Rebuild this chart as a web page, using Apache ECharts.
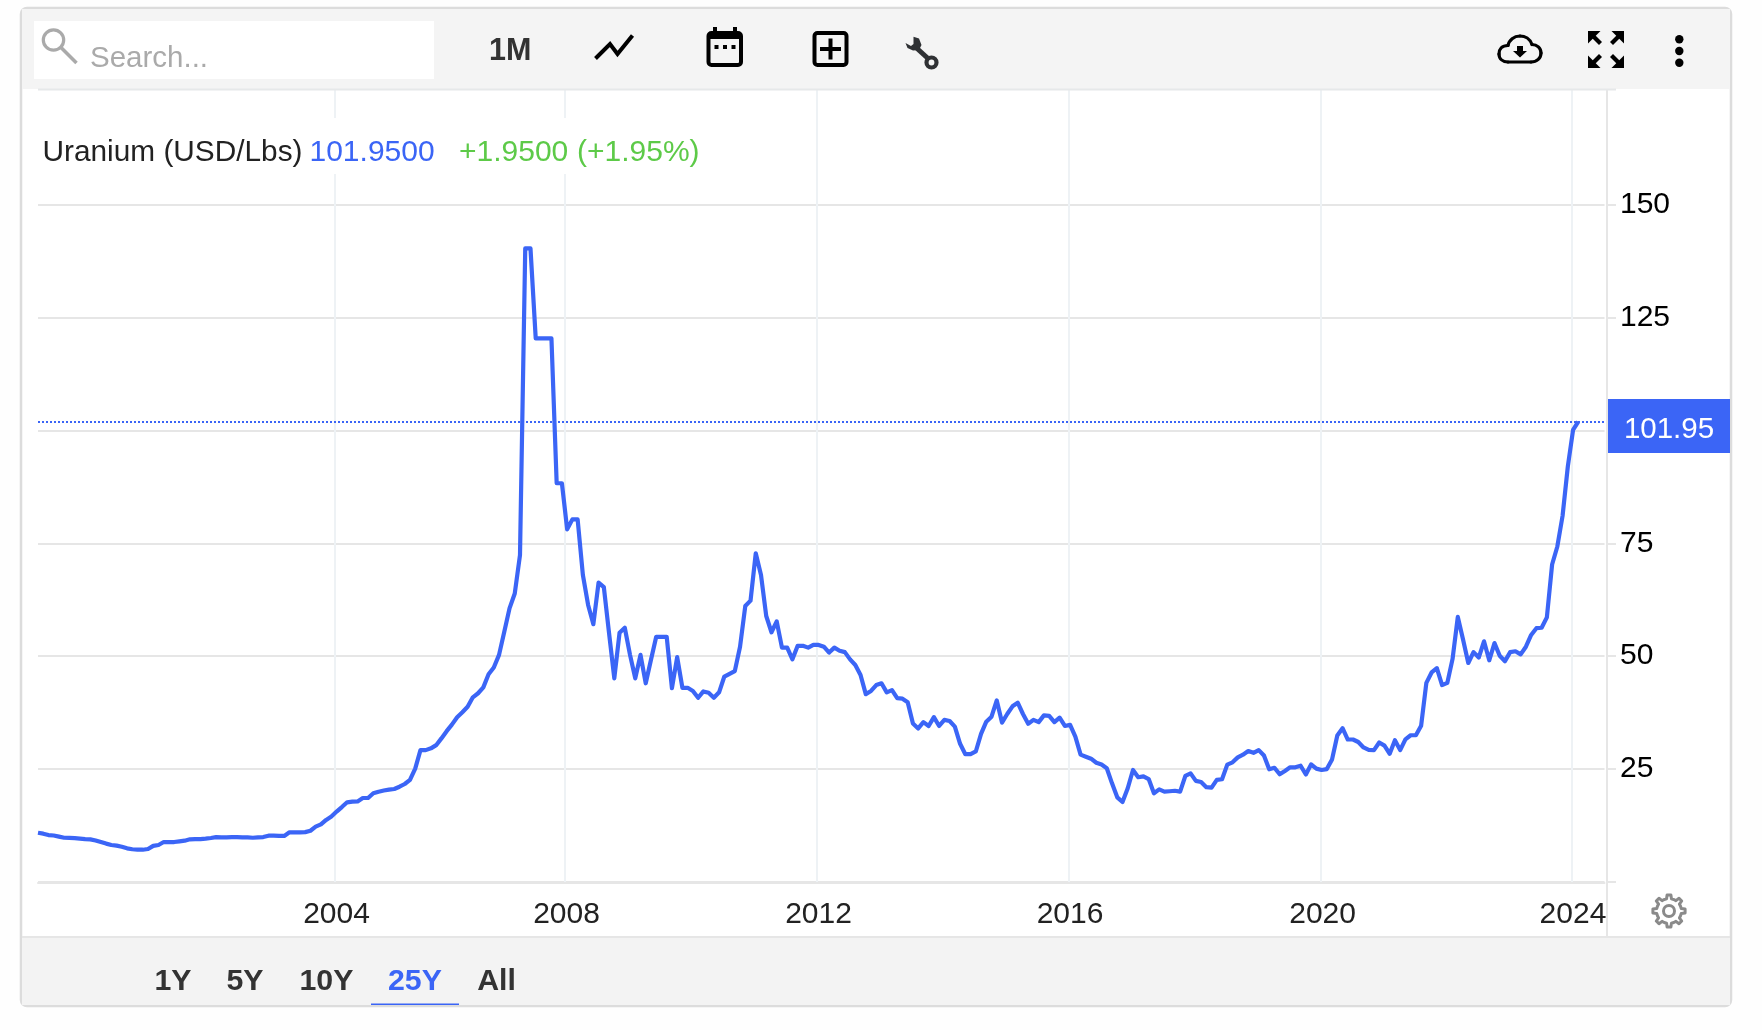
<!DOCTYPE html>
<html><head><meta charset="utf-8">
<style>html,body{margin:0;padding:0;background:#fefefe}#c{width:1762px;height:1030px}</style>
<script src="https://cdn.jsdelivr.net/npm/echarts@6/dist/echarts.min.js"></script>
</head><body><div id="c"></div>
<script>
// Monthly-ish uranium price readings (USD/Lbs), one per slot on the chart's ordinal time scale
const prices1999to2003 = [10.9,10.7,10.4,10.3,10.05,9.8,9.75,9.7,9.6,9.5,9.45,9.2,8.85,8.5,8.2,8.05,7.8,7.45,7.25,7.15,7.15,7.3,8.0,8.2,8.85,8.85,8.85,9.0,9.15,9.45,9.5,9.5,9.6,9.75,9.95,9.9,9.9,9.95,9.95,9.9,9.9,9.8,9.9,9.95,10.25,10.25,10.2,10.2,11.0,11.0,11.0,11.05,11.35,12.25,12.75,13.75,14.5];
const prices2004to2007 = [15.6,16.6,17.65,17.8,17.85,18.6,18.6,19.65,20.0,20.25,20.45,20.6,21.1,21.7,22.6,25.1,29.2,29.2,29.6,30.3,31.8,33.4,34.85,36.5,37.6,38.8,40.9,41.8,43.1,46.0,47.5,50.3,55.4,60.6,63.9,72.4,140.3,140.3,120.4,120.4,120.4,120.4,88.3,88.3];
const prices2008to2011 = [78.1,80.3,80.3,68.0,61.35,57.1,66.3,65.3,55.1,45.1,55.2,56.3,50.3,45.1,50.3,44.0,49.2,54.3,54.3,54.3,42.9,49.8,43.0,43.0,42.3,40.8,42.2,41.9,40.8,42.0,45.5,46.1,46.7,52.1,61.1,62.3,72.8,68.0,58.9,55.3,57.7,51.9,51.9,49.3,52.3,52.3,51.9,52.5];
const prices2012to2015 = [52.5,52.1,50.8,51.9,51.2,50.9,49.3,48.05,45.85,41.6,42.3,43.6,44.0,42.0,42.5,40.7,40.6,39.8,35.1,34.0,35.4,34.55,36.5,34.55,35.9,35.65,34.4,30.6,28.3,28.3,28.9,32.8,35.5,36.6,40.2,35.3,37.2,38.9,39.7,37.2,35.05,35.9,35.4,36.9,36.8,35.4,36.4,34.55];
const prices2016to2019 = [34.8,32.2,28.2,27.75,27.3,26.4,26.0,25.2,21.85,18.75,17.7,20.75,24.8,23.2,23.4,22.8,19.65,20.5,20.0,20.1,20.2,20.0,23.5,24.05,22.4,22.15,21.0,20.9,22.6,22.75,26.0,26.5,27.6,28.2,29.0,28.6,29.2,28.0,24.95,25.3,23.85,24.6,25.4,25.4,25.75,23.8,26.05,25.1];
const prices2020to2024 = [24.8,25.0,27.15,32.45,34.05,31.55,31.55,31.0,29.8,29.25,29.2,30.9,30.2,28.4,31.4,29.2,31.6,32.5,32.5,34.6,44.1,46.4,47.35,43.6,44.1,49.4,58.7,53.7,48.5,50.9,49.7,53.3,49.1,52.9,50.1,48.9,50.9,51.1,50.4,52.1,54.7,56.2,56.3,58.6,70.3,74.3,81.1,92.0,100.1,101.95];
const prices = [].concat(prices1999to2003,prices2004to2007,prices2008to2011,prices2012to2015,prices2016to2019,prices2020to2024);
const yearLabels = ['2004','2008','2012','2016','2020','2024'];
const yearSlots = [56.7,100.6,148.7,196.7,244.9,292.7];
const priceTicks = [0,25,50,75,100,125,150];
const priceLabels = [25,50,75,125,150];
const lastPrice = 101.95;
const rangeButtons = ['1Y','5Y','10Y','25Y','All'];

const FONT = '"Liberation Sans", Arial, sans-serif';
const BLUE = '#3b65f6';
const chart = echarts.init(document.getElementById('c'));
const txt = (text,x,y,size,fill,o={}) => ({type:'text',z:o.z||5,silent:true,style:{text,x,y,fill,font:`${o.bold?'bold ':''}${size}px ${FONT}`,verticalAlign:'middle',align:o.align||'left'}});
const rect = (x,y,w,h,fill,o={}) => ({type:'rect',z:o.z===undefined?4:o.z,silent:true,shape:{x,y,width:w,height:h,r:o.r||0},style:{fill:fill,stroke:o.stroke||null,lineWidth:o.lw||0}});
const poly = (points,fill,stroke,lw) => ({type:'polygon',z:6,silent:true,shape:{points},style:{fill:fill||null,stroke:stroke||null,lineWidth:lw||0,lineJoin:'round'}});
const line = (x1,y1,x2,y2,stroke,lw,cap) => ({type:'line',z:6,silent:true,shape:{x1,y1,x2,y2},style:{stroke,lineWidth:lw,lineCap:cap||'butt'}});
const circle = (cx,cy,r,fill,stroke,lw) => ({type:'circle',z:6,silent:true,shape:{cx,cy,r},style:{fill:fill||null,stroke:stroke||null,lineWidth:lw||0}});
const polyline = (points,stroke,lw,join) => ({type:'polyline',z:6,silent:true,shape:{points},style:{stroke,lineWidth:lw,fill:null,lineJoin:join||'miter'}});
const bez = (x1,y1,cpx1,cpy1,cpx2,cpy2,x2,y2,stroke,lw) => ({type:'bezierCurve',z:6,silent:true,shape:{x1,y1,cpx1,cpy1,cpx2,cpy2,x2,y2},style:{stroke,lineWidth:lw,fill:null,lineCap:'round'}});

const g = [];
// frame and bars
g.push(rect(21,8,1710,998,'#ffffff',{z:-10,r:6,stroke:'#dcdcdc',lw:2.5}));
g.push(rect(22,9,1708,80,'#f4f4f4'));
g.push(rect(38,88.5,1578,2,'#e6e8e9'));
g.push(rect(22,938,1708,67,'#f3f3f3'));
g.push(rect(22,936,1708,2,'#e6e6e6'));
g.push(rect(1606,882,2,54,'#e6e6e6',{z:1}));
// search
g.push(rect(34,21,400,58,'#ffffff'));
g.push(circle(53.5,40,10.2,null,'#aaaaaa',3.2));
g.push(line(61,47.5,76.5,63,'#aaaaaa',3.6));
g.push(txt('Search...',90,59,29.5,'#aaaaaa'));
// toolbar
g.push(txt('1M',489,51.5,30.5,'#333333',{bold:true}));
g.push(polyline([[595.5,58.5],[610,44],[617.5,54],[632.5,35.5]],'#000000',4));
g.push(rect(708.5,33,32.5,32,null,{stroke:'#000',lw:4,r:3,z:6}));
g.push(rect(708,33,34,6,'#000',{z:6}));
g.push(rect(713,27,4,6,'#000',{z:6}));g.push(rect(733,27,4,6,'#000',{z:6}));
[714.5,723,731.5].forEach(x=>g.push(rect(x,45,4,4,'#000',{z:6})));
g.push(rect(814.5,33,32,32,null,{stroke:'#000',lw:4,r:3,z:6}));
g.push(line(820,49,841,49,'#000',4));g.push(line(830.5,38.5,830.5,59.5,'#000',4));
g.push(line(916,47.5,927.5,58,'#2f3134',5));
g.push(circle(931.5,62.5,5,null,'#2f3134',4.2));
g.push(poly([[913.5,36.8],[919,38.5],[921.5,45],[919,50],[913,50.5],[907.5,48],[905.5,43],[911,46],[913.5,44]],'#2f3134'));
// cloud
g.push(line(1508,62,1531,62,'#000',3.2,'round'));
g.push(bez(1531,62,1537,62,1541,58,1541,53,'#000',3.2));
g.push(bez(1541,53,1541,48,1537,44.5,1532,44.5,'#000',3.2));
g.push(bez(1532,44.5,1530,39,1525,36,1520,36,'#000',3.2));
g.push(bez(1520,36,1514,36,1509,40,1508,45.5,'#000',3.2));
g.push(bez(1508,45.5,1502,45.5,1499,49,1499,54,'#000',3.2));
g.push(bez(1499,54,1499,59,1503,62,1508,62,'#000',3.2));
g.push(poly([[1517,46],[1523,46],[1523,51],[1527,51],[1520,57.5],[1513,51],[1517,51]],'#000'));
// fullscreen
[[1588,31,1,1],[1624,31,-1,1],[1588,68,1,-1],[1624,68,-1,-1]].forEach(([x,y,sx,sy])=>{
  g.push(poly([[x,y],[x+sx*12.5,y],[x,y+sy*12.5]],'#000'));
  g.push(line(x+sx*4,y+sy*4,x+sx*12.5,y+sy*12.5,'#000',4.2));
});
[39.3,51,62.7].forEach(y=>g.push(circle(1679.3,y,4.2,'#000')));
// title
g.push(rect(38,118,664,56,'#ffffff',{z:1}));
g.push(txt('Uranium (USD/Lbs)',42.5,153,29.8,'#222222'));
g.push(txt('101.9500',309.5,153,30,BLUE));
g.push(txt('+1.9500',459,153,30,'#5dca48'));
g.push(txt('(+1.95%)',577,153,30,'#5dca48'));
// price tag
g.push(rect(1608,399,122,54,BLUE));
g.push(txt(lastPrice.toFixed(2),1669,429.5,29.5,'#ffffff',{align:'center'}));
// range buttons
const btnX = [154.5,226.5,299.5,388,477.2];
rangeButtons.forEach((b,i)=>g.push(txt(b,btnX[i],981.5,30.3,b==='25Y'?BLUE:'#333333',{bold:true})));
g.push(rect(371,1003.5,88,1.6,BLUE));
// gear
(function(){
  const cx=1669,cy=911,n=8,pts=[];
  for(let i=0;i<n;i++){
    const a=i*2*Math.PI/n-Math.PI/2,w=Math.PI/n;
    [[12.5,a-w],[12.5,a-w*0.5],[16.2,a-w*0.3],[16.2,a+w*0.3],[12.5,a+w*0.5]].forEach(([r,t])=>pts.push([cx+r*Math.cos(t),cy+r*Math.sin(t)]));
  }
  g.push(poly(pts,null,'#8a8a8a',3));
  g.push(circle(cx,cy,5.5,null,'#8a8a8a',3));
})();

chart.setOption({
  animation:false,
  backgroundColor:'#fefefe',
  grid:{left:38,top:89,width:1566.5,height:793,containLabel:false},
  graphic:{elements:g},
  xAxis:{type:'value',min:0,max:299,offset:1,
    axisLine:{onZero:false,lineStyle:{color:'#e6e6e6',width:2}},
    axisTick:{show:false,customValues:yearSlots},
    splitLine:{show:true,customValues:yearSlots,lineStyle:{color:'#eef2f5',width:2}},
    axisLabel:{customValues:yearSlots,margin:17,color:'#222222',fontFamily:'Liberation Sans',fontSize:30,hideOverlap:false,padding:[0,0,0,3],
      formatter:v=>{const i=yearSlots.indexOf(v);return i<0?'':yearLabels[i];}}
  },
  yAxis:{type:'value',position:'right',offset:2.5,min:0,max:175.6,
    axisLine:{show:true,onZero:false,lineStyle:{color:'#e6e6e6',width:2}},
    axisTick:{show:true,length:9,customValues:priceTicks,lineStyle:{color:'#e6e6e6',width:2}},
    splitLine:{show:true,customValues:priceTicks,lineStyle:{color:'#e6e6e6',width:2}},
    axisLabel:{customValues:priceLabels,margin:13,color:'#000000',fontFamily:'Liberation Sans',fontSize:30,padding:[0,0,4,0]}
  },
  series:[{type:'line',name:'Uranium (USD/Lbs)',data:prices.map((v,i)=>[i,v]),showSymbol:false,symbol:'none',smooth:false,z:3,
    lineStyle:{color:BLUE,width:4.2,join:'round'},
    markLine:{silent:true,symbol:'none',animation:false,label:{show:false},lineStyle:{color:BLUE,type:[2,2],width:1.8},data:[{yAxis:lastPrice}]}
  }]
});
</script></body></html>
